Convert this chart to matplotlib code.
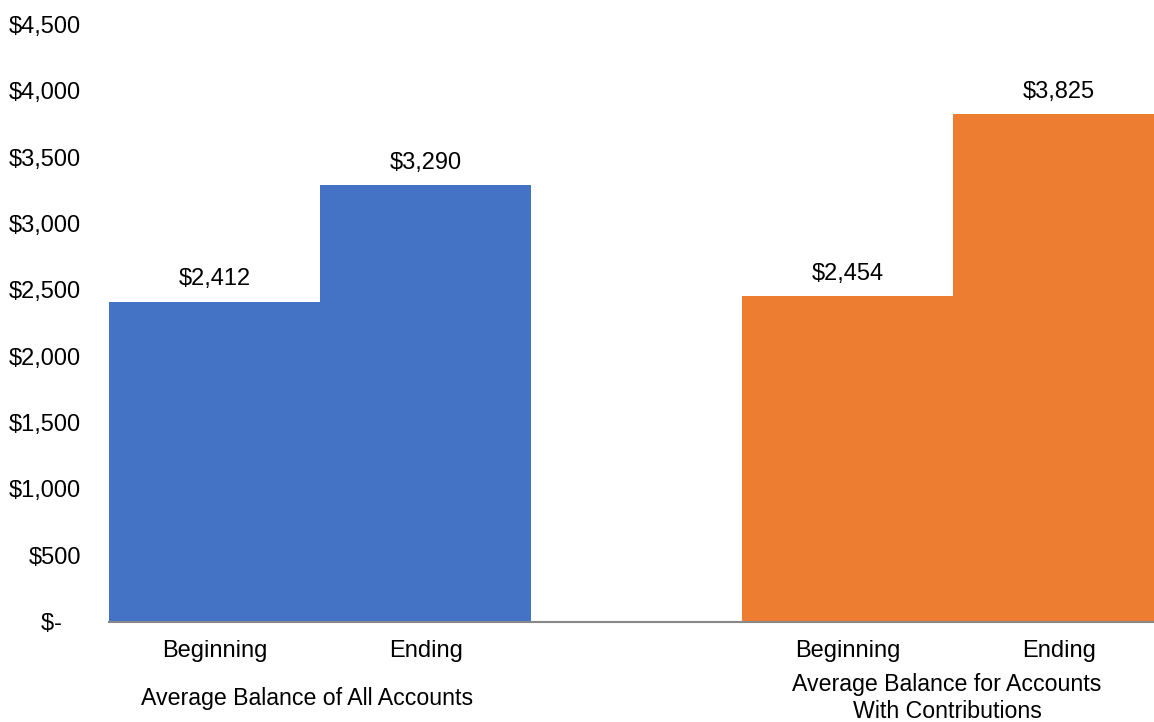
import matplotlib
matplotlib.use("Agg")
import matplotlib.pyplot as plt

plt.rcParams['font.family'] = ['Liberation Sans', 'DejaVu Sans']

# data
groups = ['Average Balance of All Accounts',
          'Average Balance for Accounts\nWith Contributions']
periods = ['Beginning', 'Ending']
all_accounts = [2412, 3290]
with_contrib = [2454, 3825]
y_ticks = [0, 500, 1000, 1500, 2000, 2500, 3000, 3500, 4000, 4500]

BLUE = '#4472C4'
ORANGE = '#ED7D31'


def money(v):
    if v == 0:
        return '$-   '
    return f'${v:,.0f}'


fig = plt.figure(figsize=(11.54, 7.22), dpi=100)
ax = fig.add_axes([0.0945, 0.1389, 0.9055, 0.8273])

pos_a = [0, 1]
pos_b = [3, 4]
bars_a = ax.bar(pos_a, all_accounts, width=1.0, color=BLUE)
bars_b = ax.bar(pos_b, with_contrib, width=1.0, color=ORANGE)

for bars, vals in ((bars_a, all_accounts), (bars_b, with_contrib)):
    for b, v in zip(bars, vals):
        ax.annotate(money(v), (b.get_x() + b.get_width() / 2, v),
                    xytext=(0, 8), textcoords='offset points',
                    ha='center', va='bottom', fontsize=17, color='black')

ax.set_xlim(-0.5, 4.45)
ax.set_ylim(0, 4500)
ax.set_yticks(y_ticks)
ax.set_yticklabels([money(v) for v in y_ticks])
ax.set_xticks(pos_a + pos_b)
ax.set_xticklabels(periods + periods)

ax.tick_params(axis='y', length=0, pad=20, labelsize=17)
ax.tick_params(axis='x', length=0, pad=13.5, labelsize=17)

for side in ['top', 'right', 'left']:
    ax.spines[side].set_visible(False)
ax.spines['bottom'].set_color('#888888')
ax.spines['bottom'].set_linewidth(1.5)

# group captions sit a little left of the group midpoints, as in the source
for x, label in zip([0.44, 3.47], groups):
    ax.annotate(label, (x, 0), xycoords=('data', 'axes fraction'),
                xytext=(0, -55), textcoords='offset points',
                ha='center', va='center', fontsize=16.7, linespacing=1.18,
                annotation_clip=False)

fig.savefig('out.png', dpi=100)
